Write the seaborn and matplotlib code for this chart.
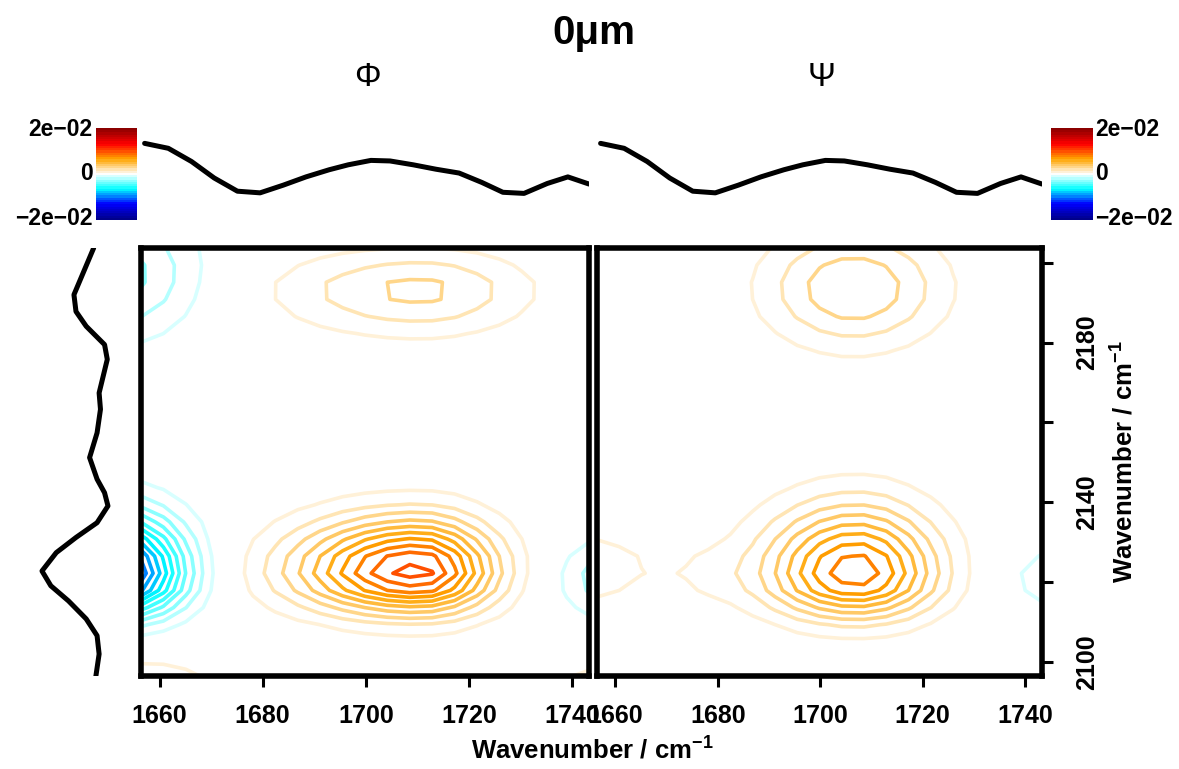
import numpy as np
import pandas as pd
import matplotlib
matplotlib.use("Agg")
import matplotlib.pyplot as plt
import seaborn as sns
from matplotlib.colors import LinearSegmentedColormap, Normalize

# ---------------- data ----------------
x_range = (1656.4, 1743.3)          # cm-1, horizontal wavenumber range
y_range = (2096.5, 2203.7)          # cm-1, vertical wavenumber range
grid_x = np.linspace(x_range[0], x_range[1], 21)
grid_y = np.linspace(y_range[0], y_range[1], 26)

# mean spectrum along the horizontal axis (top traces)
top_wn = [1657.1, 1661.7, 1666.2, 1670.6, 1675.1, 1679.5, 1684.0, 1688.4, 1692.9, 1696.6,
          1701.0, 1704.7, 1709.2, 1713.6, 1718.1, 1722.5, 1726.6, 1730.7, 1735.2, 1739.2, 1743.3]
top_int = [1.03, 0.94, 0.70, 0.40, 0.16, 0.13, 0.27, 0.42, 0.55, 0.64,
           0.72, 0.71, 0.64, 0.56, 0.49, 0.32, 0.14, 0.12, 0.30, 0.42, 0.29]

# mean spectrum along the vertical axis (left trace)
side_wn = [2203.7, 2192.0, 2187.8, 2184.1, 2179.5, 2175.8, 2167.4, 2163.3, 2157.4, 2151.2,
           2145.8, 2142.4, 2139.1, 2134.9, 2131.2, 2127.4, 2122.8, 2119.1, 2115.3, 2110.8,
           2106.6, 2102.0, 2096.2]
side_int = [0.24, 0.53, 0.50, 0.35, 0.08, 0.04, 0.16, 0.14, 0.19, 0.30,
            0.19, 0.08, 0.03, 0.19, 0.50, 0.79, 1.00, 0.87, 0.61, 0.35,
            0.19, 0.16, 0.21]

# correlation peaks: (cx, cy, amplitude, sx_left, sx_right, sy_down, sy_up)
phi_peaks = [
    (1710.0, 2122.6, 0.0105, 16.5, 10.5, 7.2, 9.3),
    (1710.5, 2193.2, 0.0033, 19.0, 14.5, 7.8, 6.8),
    (1652.0, 2122.0, -0.0122, 9.0, 9.0, 7.2, 10.5),
    (1652.0, 2197.0, -0.0035, 11.0, 11.0, 11.0, 11.0),
    (1657.0, 2092.0, 0.0020, 11.0, 11.0, 7.0, 7.0),
    (1747.0, 2092.0, 0.0022, 8.0, 8.0, 5.0, 5.0),
    (1749.0, 2121.0, -0.0030, 8.5, 8.5, 7.0, 7.0),
]
psi_peaks = [
    (1707.0, 2121.8, 0.0088, 12.5, 11.0, 7.5, 12.0),
    (1706.5, 2193.6, 0.0040, 12.0, 12.0, 10.2, 10.2),
    (1678.0, 2122.0, 0.0007, 5.0, 5.0, 5.0, 5.0),
    (1650.0, 2123.5, 0.0020, 12.7, 12.7, 6.7, 6.7),
    (1745.0, 2121.0, -0.0015, 7.8, 7.8, 7.2, 7.2),
]

panel_titles = ["\u03a6", "\u03a8"]
main_title = "0\u03bcm"
cbar_labels = ["2e\u221202", "0", "\u22122e\u221202"]
cbar_limits = (-0.02, 0.02)
x_ticks = [1660, 1680, 1700, 1720, 1740]
y_ticks = [2100, 2120, 2140, 2160, 2180, 2200]
y_ticklabels = ["2100", "", "2140", "", "2180", ""]
axis_label = "Wavenumber / cm$^{-1}$"

# ---------------- helpers ----------------
def build_map(peaks):
    X, Y = np.meshgrid(grid_x, grid_y)
    Z = np.zeros_like(X)
    for cx, cy, a, sxl, sxr, syd, syu in peaks:
        sx = np.where(X < cx, sxl, sxr)
        sy = np.where(Y < cy, syd, syu)
        Z += a * np.exp(-0.5 * ((X - cx) / sx) ** 2 - 0.5 * ((Y - cy) / sy) ** 2)
    return X, Y, Z

W, H = 1179, 769
def rect(x0, y0, x1, y1):
    return [x0 / W, 1 - y1 / H, (x1 - x0) / W, (y1 - y0) / H]

sns.set_theme(style="white")
plt.rcParams["font.family"] = ["Liberation Sans", "DejaVu Sans"]
plt.rcParams["font.weight"] = "bold"
plt.rcParams["mathtext.fontset"] = "custom"
plt.rcParams["mathtext.rm"] = "Liberation Sans"
plt.rcParams["mathtext.it"] = "Liberation Sans:italic"
plt.rcParams["mathtext.bf"] = "Liberation Sans:bold"

cmap = LinearSegmentedColormap.from_list(
    "corr",
    [(0.0, "#00008B"), (1 / 6, "#0000FF"), (2 / 6, "#00FFFF"), (0.5, "#FFFFFF"),
     (4 / 6, "#FFA500"), (5 / 6, "#FF0000"), (1.0, "#8B0000")])
norm = Normalize(*cbar_limits)
levels = [l for l in np.round(np.arange(-0.020, 0.0205, 0.001), 4) if l != 0]

fig = plt.figure(figsize=(W / 100, H / 100), dpi=100)

panels = [
    dict(main=rect(141, 248, 589, 676), top=rect(141, 130, 589, 215),
         cbar=rect(96, 128, 137, 220), peaks=phi_peaks, title_x=367, cb_side="left"),
    dict(main=rect(597, 248, 1042, 676), top=rect(597, 130, 1042, 215),
         cbar=rect(1051, 128, 1093, 220), peaks=psi_peaks, title_x=822, cb_side="right"),
]

for i, p in enumerate(panels):
    ax = fig.add_axes(p["main"])
    X, Y, Z = build_map(p["peaks"])
    ax.contour(X, Y, Z, levels=levels, cmap=cmap, norm=norm, linewidths=2.6)
    ax.set_xlim(*x_range)
    ax.set_ylim(*y_range)
    for s in ax.spines.values():
        s.set_visible(True)
        s.set_linewidth(4.0)
        s.set_color("black")
    ax.set_xticks(x_ticks)
    ax.set_xticklabels([str(t) for t in x_ticks])
    ax.tick_params(axis="x", bottom=True, direction="out", length=8, width=2.2,
                   pad=12, labelsize=18, colors="black")
    if i == 0:
        ax.set_yticks([])
    else:
        ax.yaxis.tick_right()
        ax.set_yticks(y_ticks)
        ax.set_yticklabels(y_ticklabels, rotation=90, va="center")
        ax.tick_params(axis="y", right=True, left=False, direction="out", length=8,
                       width=2.2, pad=16, labelsize=18, colors="black")
    ax.set_xlabel("")
    ax.set_ylabel("")

    # top mean spectrum
    tax = fig.add_axes(p["top"])
    sns.lineplot(x=top_wn, y=top_int, sort=False, color="black", linewidth=3.6, ax=tax)
    tax.set_xlim(*x_range)
    tax.set_ylim(-0.273, 1.273)
    tax.axis("off")

    # colour bar
    cax = fig.add_axes(p["cbar"])
    bar = pd.DataFrame(np.linspace(cbar_limits[1], cbar_limits[0], 41).reshape(-1, 1))
    sns.heatmap(bar, cmap=cmap, vmin=cbar_limits[0], vmax=cbar_limits[1], cbar=False,
                xticklabels=False, yticklabels=False, ax=cax)
    if p["cb_side"] == "left":
        tx, ha = -0.08, "right"
    else:
        tx, ha = 1.06, "left"
    for lab, ty in zip(cbar_labels, [0.98, 0.5, 0.02]):
        cax.text(tx, ty, lab, transform=cax.transAxes, ha=ha, va="center",
                 fontsize=16.5, fontweight="bold", color="black")

    fig.text(p["title_x"] / W, 1 - 78 / H, panel_titles[i], ha="center", va="center",
             fontsize=24, fontweight="normal", color="black")

# left mean spectrum (vertical)
sax = fig.add_axes(rect(30, 248, 115, 676))
sns.lineplot(x=side_int, y=side_wn, sort=False, orient="y", color="black",
             linewidth=3.6, ax=sax)
sax.set_ylim(*y_range)
sax.set_xlim(1.176, -0.0735)
sax.axis("off")

fig.text(594 / W, 1 - 33 / H, main_title, ha="center", va="center", fontsize=29,
         fontweight="bold", color="black")
fig.text(592 / W, 1 - 750 / H, axis_label, ha="center", va="center", fontsize=18.5,
         fontweight="bold", color="black")
fig.text(1125 / W, 1 - 462 / H, axis_label, ha="center", va="center", fontsize=18.5,
         fontweight="bold", rotation=90, color="black")

fig.savefig("out.png", dpi=100)
